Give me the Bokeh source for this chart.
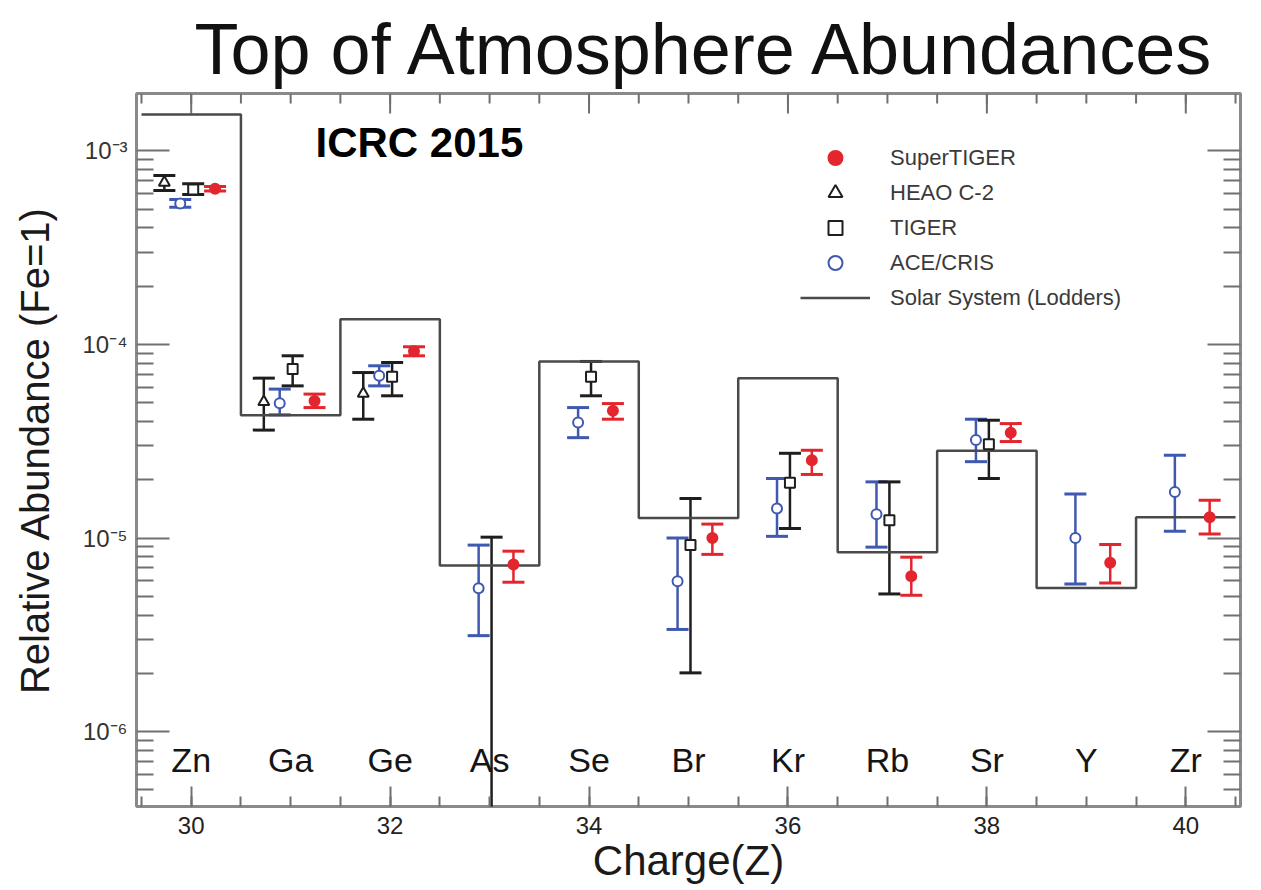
import numpy as np
from bokeh.plotting import figure
from bokeh.models import (Range1d, FixedTicker, LogAxis, Whisker, TeeHead,
                          ColumnDataSource, Legend, LegendItem, Label)
from bokeh.core.properties import value
from bokeh.embed import file_html
from bokeh.resources import INLINE

# ---- data -------------------------------------------------------------
charge = [30, 31, 32, 33, 34, 35, 36, 37, 38, 39, 40]
elements = ["Zn", "Ga", "Ge", "As", "Se", "Br", "Kr", "Rb", "Sr", "Y", "Zr"]

# Solar system abundances (Lodders), relative to Fe = 1
solar = [1.54e-3, 4.31e-5, 1.35e-4, 7.2e-6, 8.17e-5, 1.27e-5,
         6.7e-5, 8.45e-6, 2.82e-5, 5.52e-6, 1.28e-5]

# SuperTIGER
st_z = [30, 31, 32, 33, 34, 35, 36, 37, 38, 39, 40]
st_val = [6.37e-4, 5.11e-5, 9.22e-5, 7.30e-6, 4.54e-5, 1.00e-5,
          2.52e-5, 6.35e-6, 3.50e-5, 7.44e-6, 1.28e-5]
st_hi = [6.55e-4, 5.54e-5, 9.73e-5, 8.55e-6, 4.95e-5, 1.18e-5,
         2.84e-5, 7.96e-6, 3.90e-5, 9.27e-6, 1.565e-5]
st_lo = [6.20e-4, 4.72e-5, 8.74e-5, 5.91e-6, 4.11e-5, 8.23e-6,
         2.13e-5, 5.06e-6, 3.15e-5, 5.86e-6, 1.05e-5]

# HEAO C-2
heao_z = [30, 31, 32]
heao_val = [6.87e-4, 5.05e-5, 5.58e-5]
heao_hi = [7.47e-4, 6.70e-5, 7.16e-5]
heao_lo = [6.25e-4, 3.61e-5, 4.11e-5]

# TIGER (As has only an error range, no central value)
tiger_z = [30, 31, 32, 33, 34, 35, 36, 37, 38]
tiger_val = [6.32e-4, 7.46e-5, 6.81e-5, np.nan, 6.81e-5, 9.19e-6, 1.93e-5, 1.234e-5, 3.05e-5]
tiger_hi = [6.76e-4, 8.74e-5, 8.07e-5, 1.01e-5, 8.17e-5, 1.60e-5, 2.74e-5, 1.95e-5, 4.06e-5]
tiger_lo = [5.95e-4, 6.11e-5, 5.43e-5, 1.0e-7, 5.43e-5, 2.01e-6, 1.12e-5, 5.14e-6, 2.03e-5]

# ACE/CRIS
ace_z = [30, 31, 32, 33, 34, 35, 36, 37, 38, 39, 40]
ace_val = [5.35e-4, 4.97e-5, 6.89e-5, 5.50e-6, 3.95e-5, 5.98e-6,
           1.42e-5, 1.325e-5, 3.21e-5, 1.00e-5, 1.73e-5]
ace_hi = [5.61e-4, 5.88e-5, 7.76e-5, 9.19e-6, 4.72e-5, 1.00e-5,
          2.03e-5, 1.95e-5, 4.11e-5, 1.69e-5, 2.68e-5]
ace_lo = [5.12e-4, 4.33e-5, 6.11e-5, 3.13e-6, 3.30e-5, 3.37e-6,
          1.02e-5, 8.97e-6, 2.48e-5, 5.79e-6, 1.085e-5]

x_major = [30, 32, 34, 36, 38, 40]
y_major = [1e-6, 1e-5, 1e-4, 1e-3]
y_labels = ["10\u207b\u2076", "10\u207b\u2075", "10\u207b\u2074", "10\u207b\u00b3"]

# ---- styling ----------------------------------------------------------
FONT = "Liberation Sans"
RED = "#e3262e"
BLUE = "#3f58b0"
BLACK = "#1e1e1e"
TICK = "#707070"

X_LO, X_HI = 29.45, 40.55
Y_LO, Y_HI = 4.1e-7, 1.98e-3
FRAME_H = 713  # plot-area height in px (890 - 93 - 84)

x_minor = [float(v) for v in np.arange(29.5, 40.75, 0.5)]
y_minor = [k * 10.0 ** e for e in range(-7, -2) for k in range(2, 10)]

p = figure(width=1261, height=890,
           x_range=Range1d(X_LO, X_HI), y_range=Range1d(Y_LO, Y_HI),
           y_axis_type="log", output_backend="svg", toolbar_location=None,
           min_border_left=136, min_border_right=21, min_border_top=93, min_border_bottom=84,
           title="Top of Atmosphere Abundances")
p.grid.visible = False
p.outline_line_color = "#8a8a8a"
p.outline_line_width = 3
p.background_fill_color = "white"
p.border_fill_color = "white"

p.title.text_font = FONT
p.title.text_font_size = "72px"
p.title.text_font_style = "normal"
p.title.text_color = "#111111"
p.title.align = "left"
p.title.offset = 58
p.title.standoff = 10


def style_axis(ax, major_in, minor_in):
    ax.axis_line_color = None
    ax.major_tick_in = major_in
    ax.major_tick_out = 0
    ax.minor_tick_in = minor_in
    ax.minor_tick_out = 0
    ax.major_tick_line_color = TICK
    ax.minor_tick_line_color = TICK
    ax.major_tick_line_width = 2
    ax.minor_tick_line_width = 2


xa = p.xaxis[0]
xa.ticker = FixedTicker(ticks=x_major, minor_ticks=x_minor)
style_axis(xa, 20, 10)
xa.major_label_text_font = FONT
xa.major_label_text_font_size = "24px"
xa.major_label_text_color = "#222222"
xa.major_label_standoff = 10
xa.axis_label = "Charge(Z)"
xa.axis_label_text_font = FONT
xa.axis_label_text_font_size = "42px"
xa.axis_label_text_font_style = "normal"
xa.axis_label_text_color = "#1a1a1a"
xa.axis_label_standoff = 0

ya = p.yaxis[0]
ya.ticker = FixedTicker(ticks=y_major, minor_ticks=y_minor)
style_axis(ya, 33, 17)
ya.major_label_overrides = dict(zip(y_major, y_labels))
ya.major_label_text_font = FONT
ya.major_label_text_font_size = "24px"
ya.major_label_text_color = "#333333"
ya.major_label_standoff = 9
ya.axis_label = "Relative Abundance (Fe=1)"
ya.axis_label_text_font = FONT
ya.axis_label_text_font_size = "40px"
ya.axis_label_text_font_style = "normal"
ya.axis_label_text_color = "#1a1a1a"
ya.axis_label_standoff = 22

# mirrored tick marks on the right edge (labels not drawn)
right_ax = LogAxis(ticker=FixedTicker(ticks=y_major, minor_ticks=y_minor))
style_axis(right_ax, 33, 17)
right_ax.major_label_text_color = None
right_ax.major_label_text_font_size = "1px"
right_ax.major_label_standoff = 0
p.add_layout(right_ax, "right")

# mirrored tick marks along the top edge, hanging down into the frame
px_per_decade = FRAME_H / np.log10(Y_HI / Y_LO)
for marks, length in ((x_minor, 10), (x_major, 20)):
    p.segment(x0=marks, x1=marks, y0=[Y_HI] * len(marks),
              y1=[Y_HI / 10 ** (length / px_per_decade)] * len(marks),
              line_color=TICK, line_width=2)

# ---- solar system reference (step histogram) --------------------------
step_x = np.ravel([[z - 0.5, z + 0.5] for z in charge])
step_y = np.repeat(solar, 2)
solar_r = p.line(step_x, step_y, line_color="#4a4a4a", line_width=2.5)


def add_series(zs, vals, hi, lo, offset, color, marker, fill, size, lw):
    src = ColumnDataSource(dict(x=[z + offset for z in zs], y=vals, hi=hi, lo=lo))
    head = dict(size=22, line_color=color, line_width=3)
    p.add_layout(Whisker(source=src, base="x", upper="hi", lower="lo", dimension="height",
                         line_color=color, line_width=lw,
                         upper_head=TeeHead(**head), lower_head=TeeHead(**head)))
    return p.scatter("x", "y", source=src, marker=marker, size=size,
                     fill_color=fill, line_color=color, line_width=2)


heao_r = add_series(heao_z, heao_val, heao_hi, heao_lo, -0.27, BLACK, "triangle", "white", 11, 2.5)
ace_r = add_series(ace_z, ace_val, ace_hi, ace_lo, -0.11, BLUE, "circle", "white", 10, 2.5)
tiger_r = add_series(tiger_z, tiger_val, tiger_hi, tiger_lo, 0.02, BLACK, "square", "white", 10, 2.5)
st_r = add_series(st_z, st_val, st_hi, st_lo, 0.24, RED, "circle", RED, 10, 2.5)

# ---- element names along the bottom ------------------------------------
label_y = 7.1e-7
p.text(x=charge, y=[label_y] * len(charge), text=elements,
       text_font=value(FONT), text_font_size="34px", text_color="#151515",
       text_align="center", text_baseline="middle")

# ---- legend -----------------------------------------------------------
legend = Legend(items=[LegendItem(label="SuperTIGER", renderers=[st_r]),
                       LegendItem(label="HEAO C-2", renderers=[heao_r]),
                       LegendItem(label="TIGER", renderers=[tiger_r]),
                       LegendItem(label="ACE/CRIS", renderers=[ace_r]),
                       LegendItem(label="Solar System (Lodders)", renderers=[solar_r])],
                location=(664, 491), glyph_width=70, glyph_height=35, label_height=35,
                spacing=0, padding=0, margin=0, label_standoff=20,
                border_line_color=None, background_fill_alpha=0,
                label_text_font=FONT, label_text_font_size="22px", label_text_color="#3a3a3a")
p.add_layout(legend)

# ---- conference tag inside the frame -------------------------------------
p.add_layout(Label(x=179, y=664, x_units="screen", y_units="screen", text="ICRC 2015",
                   text_align="left", text_baseline="middle",
                   text_font="Liberation Sans", text_font_style="bold",
                   text_font_size="42px", text_color="#000000"))

open("out.html", "w").write(file_html(p, INLINE))
